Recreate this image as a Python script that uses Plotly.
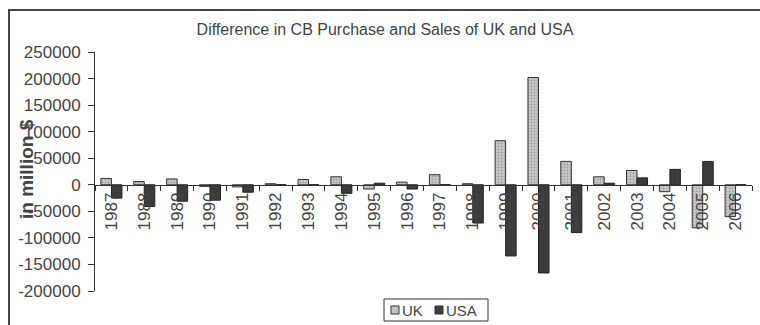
import plotly.graph_objects as go

years = [str(y) for y in range(1987, 2007)]
uk = [12000, 6000, 11000, -3000, -4000, 2000, 10000, 15000, -8000, 5000,
      19000, 2000, 83000, 202000, 44000, 15000, 27000, -13000, -81000, -60000]
usa = [-25000, -41000, -31000, -29000, -14000, 0, 0, -16000, 3000, -8000,
       0, -72000, -134000, -166000, -90000, 3000, 13000, 29000, 44000, 0]

y_min, y_max, y_step = -200000, 250000, 50000
tick_vals = list(range(y_min, y_max + 1, y_step))
tick_text = [str(v) for v in tick_vals]

series_names = ["UK", "USA"]
uk_fill, usa_fill = "#c4c4c4", "#3c3c3c"

W, H = 760, 325
ML, MR, MT, MB = 95, 8, 52, 34
pw = W - ML - MR
ph = H - MT - MB


def px_x(p):
    return (p - ML) / pw


def px_y(p):
    return (MT + ph - p) / ph


fig = go.Figure()
fig.add_trace(go.Bar(
    x=years, y=uk, name=series_names[0],
    marker=dict(color=uk_fill, line=dict(color="#333333", width=1),
                pattern=dict(shape=".", fgcolor="#7a7a7a", bgcolor="#c8c8c8",
                             size=3, solidity=0.3)),
))
fig.add_trace(go.Bar(
    x=years, y=usa, name=series_names[1],
    marker=dict(color=usa_fill, line=dict(color="#222222", width=1)),
))

font_family = "Liberation Sans, Arial, sans-serif"
fig.update_layout(
    width=W, height=H,
    margin=dict(l=ML, r=MR, t=MT, b=MB, pad=0),
    paper_bgcolor="white", plot_bgcolor="white",
    barmode="group", bargap=0.36, bargroupgap=0,
    font=dict(family=font_family, color="#444444"),
    title=dict(text="Difference in CB Purchase and Sales of UK and USA",
               x=385 / W, xref="container", xanchor="center",
               y=1 - 29 / H, yref="container", yanchor="middle",
               font=dict(size=16, color="#444444")),
    xaxis=dict(type="category", anchor="free",
               position=(0 - y_min) / (y_max - y_min),
               showline=True, linecolor="#333333", linewidth=1,
               ticks="outside", tickson="boundaries", ticklen=5,
               tickcolor="#333333", tickangle=-90,
               tickfont=dict(size=17, color="#444444"),
               showgrid=False, zeroline=False, automargin=False),
    yaxis=dict(range=[y_min, y_max], tickvals=tick_vals, ticktext=tick_text,
               showline=True, linecolor="#333333", linewidth=1,
               ticks="outside", ticklen=6, tickcolor="#333333",
               ticklabelstandoff=4,
               tickfont=dict(size=17, color="#444444"),
               showgrid=False, zeroline=False, automargin=False),
    showlegend=False,
)

fig.add_annotation(text="<b>in million $</b>", textangle=-90,
                   xref="paper", yref="paper",
                   x=px_x(26), y=px_y(169),
                   showarrow=False, font=dict(size=19, color="#444444"),
                   xanchor="center", yanchor="middle")

# outer frame
fig.add_shape(type="rect", xref="paper", yref="paper",
              x0=px_x(9), x1=px_x(W + 10), y0=px_y(H + 10), y1=px_y(10),
              line=dict(color="#444444", width=2), fillcolor="rgba(0,0,0,0)",
              layer="below")

# legend
fig.add_shape(type="rect", xref="paper", yref="paper",
              x0=px_x(384), x1=px_x(488), y0=px_y(321), y1=px_y(299),
              line=dict(color="#333333", width=1), fillcolor="white")
for sx, fill, name in [(391, uk_fill, series_names[0]),
                       (435, usa_fill, series_names[1])]:
    fig.add_shape(type="rect", xref="paper", yref="paper",
                  x0=px_x(sx), x1=px_x(sx + 8), y0=px_y(314), y1=px_y(306),
                  line=dict(color="#333333", width=1), fillcolor=fill)
    fig.add_annotation(text=name, xref="paper", yref="paper",
                       x=px_x(sx + 9), y=px_y(310.5), showarrow=False,
                       xanchor="left", yanchor="middle",
                       font=dict(size=15, color="#444444"))

fig.write_html("out.html",
               config={"displayModeBar": False},
               post_script="document.body.style.margin='0';"
                           "document.body.style.overflow='hidden';")
